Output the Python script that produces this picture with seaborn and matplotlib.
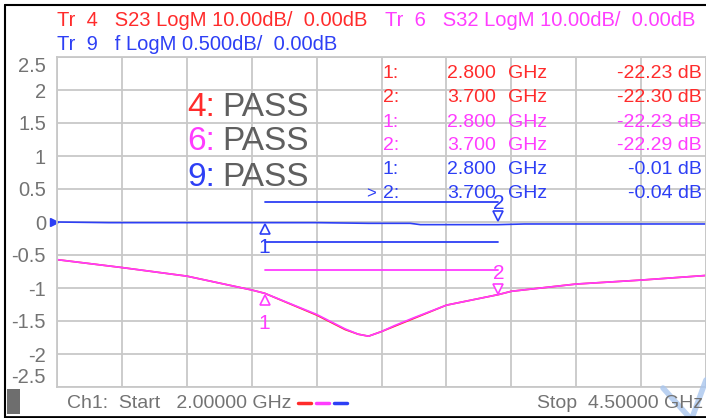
import numpy as np
import pandas as pd
import seaborn as sns
import matplotlib.pyplot as plt
from matplotlib.lines import Line2D
from matplotlib.transforms import offset_copy

# data (displayed units)
freq = [2.0, 2.25, 2.5, 2.75, 2.8, 3.0, 3.11, 3.16, 3.2, 3.25, 3.3, 3.375, 3.5, 3.7, 3.75, 4.0, 4.25, 4.5]
s32 = [-0.57, -0.69, -0.82, -1.03, -1.08, -1.40, -1.62, -1.70, -1.73, -1.66, -1.57, -1.45, -1.26, -1.10, -1.05, -0.94, -0.88, -0.81]
s23 = [-0.57, -0.69, -0.82, -1.03, -1.08, -1.41, -1.63, -1.70, -1.73, -1.66, -1.58, -1.46, -1.26, -1.10, -1.05, -0.94, -0.88, -0.81]
f_freq = [2.0, 2.2, 2.4, 2.6, 2.8, 3.0, 3.2, 3.36, 3.4, 3.6, 3.7, 3.8, 4.0, 4.25, 4.5]
f_trace = [0.0, -0.01, -0.01, -0.01, -0.01, -0.01, -0.02, -0.02, -0.04, -0.04, -0.04, -0.03, -0.03, -0.03, -0.03]

marker_freq = [2.8, 3.7]
blue_limits = [0.3, -0.3]
magenta_limit = -0.73

table_rows = [("1:", "2.800", "GHz", "-22.23 dB"),
              ("2:", "3.700", "GHz", "-22.30 dB"),
              ("1:", "2.800", "GHz", "-22.23 dB"),
              ("2:", "3.700", "GHz", "-22.29 dB"),
              ("1:", "2.800", "GHz", "-0.01 dB"),
              ("2:", "3.700", "GHz", "-0.04 dB")]
pass_rows = [("4:", "PASS"), ("6:", "PASS"), ("9:", "PASS")]
ytick_vals = [-2.5, -2, -1.5, -1, -0.5, 0, 0.5, 1, 1.5, 2, 2.5]

RED = '#ff2b2b'
MAG = '#ff3cff'
BLUE = '#2d3ff5'
GRAY = '#737373'

W, H = 706, 418
sns.set_theme(style="white")
plt.rcParams['font.family'] = ['Liberation Sans', 'DejaVu Sans']

fig = plt.figure(figsize=(W / 100, H / 100), dpi=100)
ax = fig.add_axes([57 / W, (H - 387) / H, (706 - 57) / W, (387 - 57) / H])

def ft(x, y, s, **kw):
    kw.setdefault('va', 'center')
    fig.text(x / W, 1 - y / H, s, **kw)

# traces
sns.lineplot(x=freq, y=s23, ax=ax, color=RED, lw=1.2)
sns.lineplot(x=freq, y=s32, ax=ax, color=MAG, lw=1.2)
sns.lineplot(x=f_freq, y=f_trace, ax=ax, color=BLUE, lw=1.2)

# limit lines between markers
for lv in blue_limits:
    ax.plot(marker_freq, [lv, lv], color=BLUE, lw=1.3)
ax.plot(marker_freq, [magenta_limit, magenta_limit], color=MAG, lw=1.3)

# markers
def put_marker(xv, yv, color, up, dy_tri, dy_lab, label):
    tri = offset_copy(ax.transData, fig=fig, x=0, y=-dy_tri * 0.72, units='points')
    ax.plot([xv], [yv], marker='^' if up else 'v', ms=7, mfc='white', mec=color,
            mew=1.2, transform=tri, clip_on=False)
    lab = offset_copy(ax.transData, fig=fig, x=0, y=-dy_lab * 0.72, units='points')
    ax.text(xv, yv, label, color=color, fontsize=15, ha='center', va='center', transform=lab)

i1, i2 = freq.index(marker_freq[0]), freq.index(marker_freq[1])
j1, j2 = f_freq.index(marker_freq[0]), f_freq.index(marker_freq[1])
put_marker(marker_freq[0], f_trace[j1], BLUE, True, 6, 25, "1")
put_marker(marker_freq[1], f_trace[j2], BLUE, False, -9, -21, "2")
put_marker(marker_freq[0], s32[i1], MAG, True, 7, 30, "1")
put_marker(marker_freq[1], s32[i2], MAG, False, -6, -21, "2")

# reference arrow
ref = offset_copy(ax.transAxes, fig=fig, x=-2, y=0, units='points')
ax.plot([0], [0.5], marker='>', ms=6, color=BLUE, transform=ref, clip_on=False)

ax.set_xlim(2.0, 4.5)
ax.set_ylim(-2.5, 2.5)
ax.set_xticks(np.arange(2.0, 4.51, 0.25))
ax.set_xticklabels([])
ax.set_yticks(ytick_vals)
ax.set_yticklabels(["%g" % v for v in ytick_vals], color=GRAY, fontsize=14.5)
labels = ax.get_yticklabels()
labels[0].set_va('bottom')
labels[-1].set_va('top')
ax.tick_params(axis='both', length=0, pad=8)
ax.grid(True, color='#c8c8c8', lw=1.3)
for sp in ax.spines.values():
    sp.set_color('#c8c8c8')
    sp.set_linewidth(1.3)

# header
ft(57, 20, "Tr  4   S23 LogM 10.00dB/  0.00dB", color=RED, fontsize=14.5)
ft(385, 20, "Tr  6   S32 LogM 10.00dB/  0.00dB", color=MAG, fontsize=14.5)
ft(57, 45, "Tr  9   f LogM 0.500dB/  0.00dB", color=BLUE, fontsize=14.5)

# marker table
row_y = [73, 97, 122, 146, 170, 194]
row_c = [RED, RED, MAG, MAG, BLUE, BLUE]
for (n, fv, unit, val), y, c in zip(table_rows, row_y, row_c):
    ft(383, y, n, color=c, fontsize=14)
    ft(447, y, fv, color=c, fontsize=14)
    ft(508, y, unit, color=c, fontsize=14)
    ft(702, y, val, color=c, fontsize=14, ha='right')
ft(366, 194, ">", color=BLUE, fontsize=12)

# limit test results
for (tr, res), y, c in zip(pass_rows, [107, 142, 178], [RED, MAG, BLUE]):
    ft(187, y, tr, color=c, fontsize=24)
    ft(222, y, res, color='#5f5f5f', fontsize=24)

# bottom status bar
ft(67, 403, "Ch1:  Start   2.00000 GHz", color=GRAY, fontsize=14)
ft(703, 403, "Stop  4.50000 GHz", color=GRAY, fontsize=14, ha='right')
for x0, c in zip([298, 316, 334], [RED, MAG, BLUE]):
    fig.add_artist(Line2D([x0 / W, (x0 + 13) / W], [1 - 403 / H] * 2, color=c, lw=2.5))
fig.add_artist(plt.Rectangle((7 / W, 1 - 414 / H), 13 / W, 25 / H, color='#6e6e6e', lw=0))

# resize grip
fig.add_artist(Line2D([663 / W, 690 / W], [1 - 388 / H, 0], color='#a9c6ee', lw=4, alpha=0.8))
fig.add_artist(Line2D([706 / W, 692 / W], [1 - 380 / H, 0], color='#a9c6ee', lw=4, alpha=0.8))

# frame
fig.add_artist(Line2D([5 / W, 1], [1 - 5 / H] * 2, color='black', lw=1.5))
fig.add_artist(Line2D([5 / W, 5 / W], [0, 1 - 5 / H], color='black', lw=1.5))
fig.add_artist(Line2D([5 / W, 1], [1 / H, 1 / H], color='black', lw=2))

fig.savefig("out.png", dpi=100)
